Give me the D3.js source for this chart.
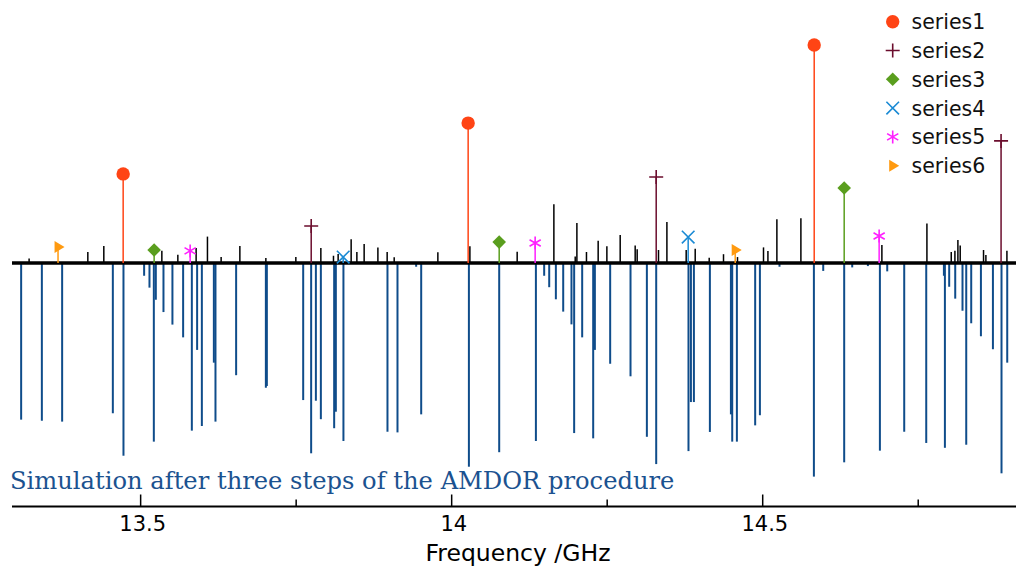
<!DOCTYPE html>
<html>
<head>
<meta charset="utf-8">
<script src="https://cdn.jsdelivr.net/npm/d3@7"></script>
<style>
  html, body { margin: 0; padding: 0; background: #fff; }
  svg { display: block; }
</style>
</head>
<body>
<div id="graph"></div>
<script>
// assigned lines [frequency GHz, intensity]
const series1 = [[13.4727, 0.405], [14.0273, 0.636], [14.5836, 0.991]];
const series2 = [[13.7750, 0.168], [14.3296, 0.391], [14.8840, 0.555]];
const series3 = [[13.5225, 0.059], [14.0772, 0.095], [14.6318, 0.341]];
const series4 = [[13.8264, 0.027], [14.3810, 0.118]];
const series5 = [[13.5804, 0.055], [14.1350, 0.091], [14.6880, 0.123]];
const series6 = [[13.3680, 0.073], [14.4566, 0.059]];

const seriesNames = ["series1", "series2", "series3", "series4", "series5", "series6"];
const seriesColors = ["#ff4415", "#6b0d2d", "#5a9e1e", "#1a8ad4", "#ff1fff", "#ff9a10"];

// unassigned experimental peaks [frequency, intensity]
const expPeaks = [
  [13.3215, 0.021], [13.4159, 0.050], [13.4416, 0.077], [13.5349, 0.056], [13.5606, 0.038],
  [13.5900, 0.068], [13.6082, 0.120], [13.6302, 0.027], [13.6603, 0.077], [13.7021, 0.023],
  [13.7503, 0.027], [13.7905, 0.068], [13.8108, 0.033], [13.8183, 0.041], [13.8392, 0.108],
  [13.8484, 0.050], [13.8601, 0.086], [13.8822, 0.071], [13.8971, 0.050], [13.9084, 0.026],
  [13.9786, 0.049], [14.0301, 0.076], [14.1061, 0.051], [14.1651, 0.267], [14.1994, 0.029],
  [14.2021, 0.182], [14.2175, 0.050], [14.2363, 0.101], [14.2503, 0.076], [14.2717, 0.127],
  [14.2958, 0.079], [14.2990, 0.062], [14.3333, 0.059], [14.3468, 0.186], [14.3778, 0.059],
  [14.3923, 0.065], [14.4148, 0.024], [14.4378, 0.040], [14.4603, 0.027], [14.5021, 0.071],
  [14.5092, 0.055], [14.5236, 0.199], [14.5622, 0.203], [14.6924, 0.082], [14.7648, 0.179],
  [14.8039, 0.050], [14.8098, 0.056], [14.8146, 0.105], [14.8183, 0.079], [14.8558, 0.059],
  [14.8596, 0.036], [14.8934, 0.056]
];

// simulated spectrum (drawn downwards) [frequency, intensity]
const simLines = [
  [13.3087, -0.712], [13.3420, -0.717], [13.3746, -0.721], [13.4561, -0.683], [13.4732, -0.876],
  [13.5064, -0.058], [13.5150, -0.112], [13.5220, -0.812], [13.5252, -0.167], [13.5375, -0.223],
  [13.5519, -0.280], [13.5691, -0.338], [13.5831, -0.762], [13.5916, -0.395], [13.5992, -0.741],
  [13.6185, -0.453], [13.6211, -0.721], [13.6543, -0.510], [13.7021, -0.567], [13.7037, -0.559],
  [13.7621, -0.623], [13.7749, -0.865], [13.7825, -0.626], [13.7905, -0.710], [13.8119, -0.751],
  [13.8146, -0.676], [13.8268, -0.809], [13.8976, -0.767], [13.9137, -0.770], [13.9437, -0.017],
  [13.9518, -0.688], [14.0285, -0.926], [14.0772, -0.860], [14.1362, -0.809], [14.1495, -0.058],
  [14.1576, -0.110], [14.1683, -0.165], [14.1801, -0.221], [14.1934, -0.279], [14.1977, -0.773],
  [14.2106, -0.338], [14.2283, -0.797], [14.2310, -0.395], [14.2556, -0.458], [14.2883, -0.515],
  [14.3146, -0.790], [14.3296, -0.914], [14.3815, -0.855], [14.3854, -0.632], [14.3902, -0.632],
  [14.4159, -0.768], [14.4497, -0.688], [14.4518, -0.812], [14.4593, -0.812], [14.4887, -0.738],
  [14.4963, -0.692], [14.5278, -0.017], [14.5831, -0.971], [14.5981, -0.036], [14.6318, -0.906],
  [14.6447, -0.020], [14.6699, -0.014], [14.6892, -0.853], [14.7010, -0.038], [14.7283, -0.767],
  [14.7637, -0.818], [14.7921, -0.058], [14.7937, -0.840], [14.8006, -0.108], [14.8103, -0.162],
  [14.8220, -0.217], [14.8280, -0.826], [14.8360, -0.274], [14.8516, -0.333], [14.8709, -0.392],
  [14.8847, -0.956], [14.8939, -0.453]
];

const majorTicks = [13.5, 14, 14.5];
const minorTicks = [13.75, 14.25, 14.75];

const width = 1016, height = 567;

const svg = d3.select("#graph").append("svg")
  .attr("width", width)
  .attr("height", height);

const x = d3.scaleLinear().domain([13.294, 14.908]).range([12, 1016]);
const y = d3.scaleLinear().domain([-1, 1]).range([483, 43]);

// simulation sticks
svg.append("g")
  .selectAll("line")
  .data(simLines)
  .enter()
  .append("line")
  .attr("x1", d => x(d[0])).attr("x2", d => x(d[0]))
  .attr("y1", y(0)).attr("y2", d => y(d[1]))
  .attr("stroke", "#0f4c8a")
  .attr("stroke-width", 2);

// experimental baseline and peaks
svg.append("line")
  .attr("x1", x.range()[0]).attr("x2", x.range()[1])
  .attr("y1", y(0)).attr("y2", y(0))
  .attr("stroke", "#000")
  .attr("stroke-width", 3.5);

svg.append("g")
  .selectAll("line")
  .data(expPeaks)
  .enter()
  .append("line")
  .attr("x1", d => x(d[0])).attr("x2", d => x(d[0]))
  .attr("y1", y(0)).attr("y2", d => y(d[1]))
  .attr("stroke", "#000")
  .attr("stroke-width", 1.5);

// marker shapes
const markerPaths = [
  null, // circle
  "M-7,0H7M0,-7V7",
  "M0,-6.8L6.8,0L0,6.8L-6.8,0Z",
  "M-6.3,-6.3L6.3,6.3M-6.3,6.3L6.3,-6.3",
  "M0,-6.5V6.5M-5.6,-3.25L5.6,3.25M-5.6,3.25L5.6,-3.25",
  "M-3.5,-6L6.5,0L-3.5,6Z"
];

function drawMarker(g, i, cx, cy) {
  const c = seriesColors[i];
  if (i === 0) {
    g.append("circle").attr("cx", cx).attr("cy", cy).attr("r", 6.7).attr("fill", c);
  } else if (i === 2 || i === 5) {
    g.append("path").attr("d", markerPaths[i])
      .attr("transform", `translate(${cx},${cy})`).attr("fill", c);
  } else {
    g.append("path").attr("d", markerPaths[i])
      .attr("transform", `translate(${cx},${cy})`)
      .attr("fill", "none").attr("stroke", c).attr("stroke-width", 1.6);
  }
}

const allSeries = [series1, series2, series3, series4, series5, series6];
const marks = svg.append("g");

allSeries.forEach((s, i) => {
  marks.selectAll(null)
    .data(s)
    .enter()
    .append("line")
    .attr("x1", d => x(d[0])).attr("x2", d => x(d[0]))
    .attr("y1", y(0)).attr("y2", d => y(d[1]))
    .attr("stroke", seriesColors[i])
    .attr("stroke-width", 1.5);
});
allSeries.forEach((s, i) => {
  s.forEach(d => drawMarker(marks, i, x(d[0]), y(d[1])));
});

// legend
const legend = svg.append("g");
seriesNames.forEach((name, i) => {
  const ly = 21.7 + i * 28.8;
  drawMarker(legend, i, 892.7, ly);
  legend.append("text")
    .attr("x", 911.5).attr("y", ly + 7.5)
    .style("font-family", "DejaVu Sans")
    .style("font-size", "20.5px")
    .attr("fill", "#111")
    .text(name);
});

// x axis
const axisY = 506.5;
const axisG = svg.append("g").attr("transform", `translate(0,${axisY})`);
axisG.call(d3.axisBottom(x).tickValues(majorTicks).tickSize(-12).tickPadding(10)
    .tickFormat(d => String(d)))
  .call(g => g.select(".domain").remove())
  .call(g => g.selectAll(".tick line").attr("stroke", "#000").attr("stroke-width", 1.5))
  .call(g => g.selectAll(".tick text")
    .attr("dx", "0.1em")
    .style("font-family", "DejaVu Sans").style("font-size", "21px").attr("fill", "#000"));

const minorG = svg.append("g").attr("transform", `translate(0,${axisY})`);
minorG.call(d3.axisBottom(x).tickValues(minorTicks).tickSize(-7).tickFormat(""))
  .call(g => g.select(".domain").remove())
  .call(g => g.selectAll(".tick line").attr("stroke", "#000").attr("stroke-width", 1.5));

svg.append("line")
  .attr("x1", x.range()[0]).attr("x2", x.range()[1])
  .attr("y1", axisY).attr("y2", axisY)
  .attr("stroke", "#000").attr("stroke-width", 2);

svg.append("text")
  .attr("x", 518).attr("y", 561)
  .attr("text-anchor", "middle")
  .style("font-family", "DejaVu Sans")
  .style("font-size", "23.5px")
  .attr("fill", "#000")
  .text("Frequency /GHz");

// annotation
svg.append("text")
  .attr("x", 10).attr("y", 489)
  .style("font-family", "DejaVu Serif")
  .style("font-size", "24.2px")
  .attr("fill", "#1b5290")
  .text("Simulation after three steps of the AMDOR procedure");
</script>
</body>
</html>
